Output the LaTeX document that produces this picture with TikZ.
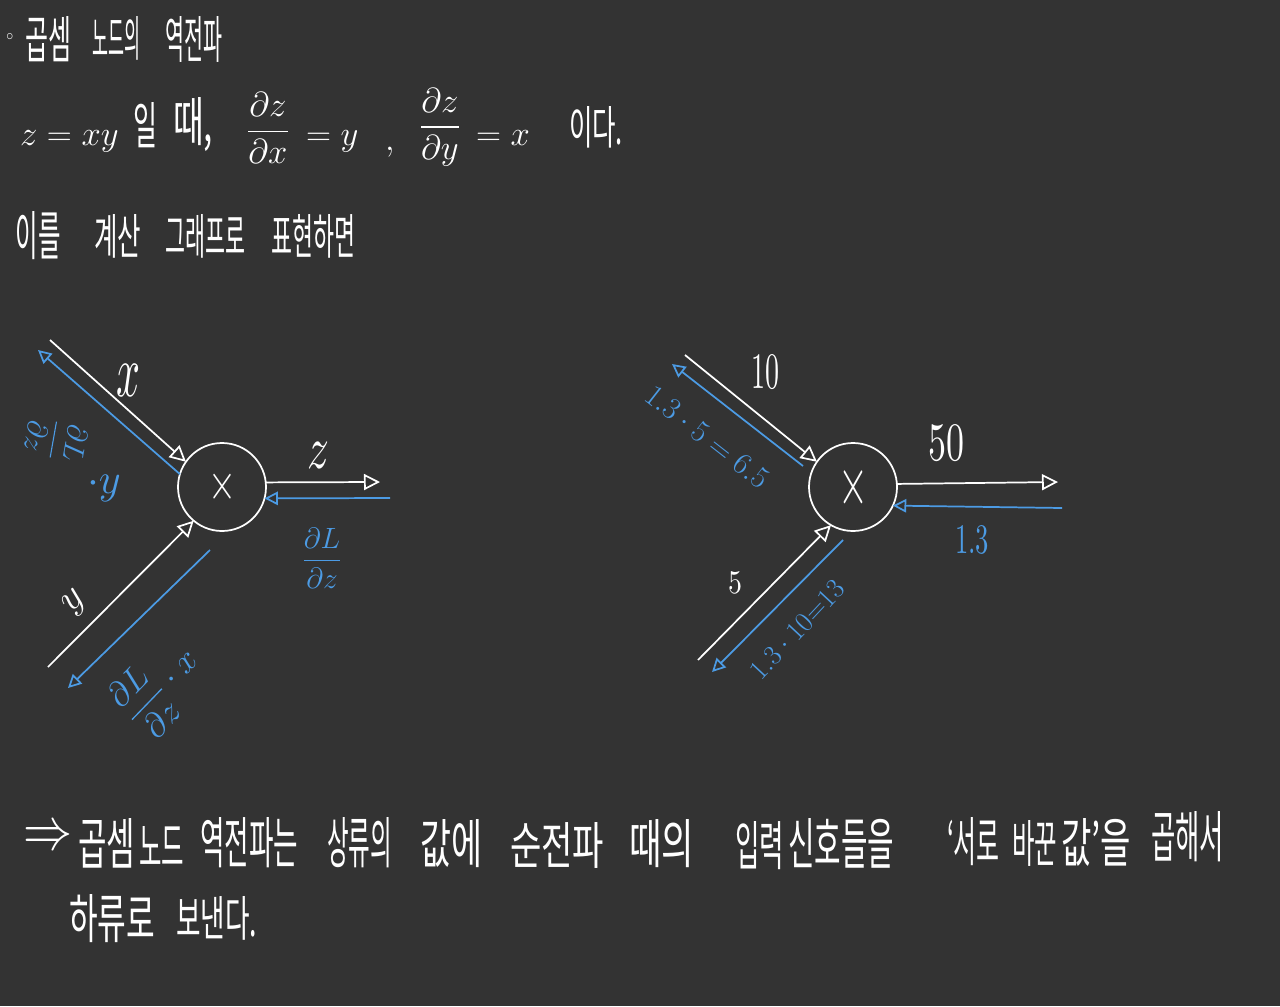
\RequirePackage{fix-cm}
\documentclass[tikz,border=0pt]{standalone}
\usepackage{fontspec}
\usepackage{amsmath}
\usepackage{graphicx}
\usetikzlibrary{arrows.meta}
\newfontfamily\kfont{Noto Sans CJK KR}
\newlength\pxu \setlength\pxu{0.75pt}
\newcommand\rs[3]{\resizebox{#1\pxu}{#2\pxu}{#3}}
\newcommand\msz{\fontsize{26}{30}\selectfont}
\newcommand\bsz{\fontsize{22}{26}\selectfont}
\definecolor{bg}{RGB}{51,51,51}
\definecolor{hb}{RGB}{76,155,228}
\begin{document}
\begin{tikzpicture}[x=0.75pt,y=-0.75pt,
  every node/.style={inner sep=0pt, outer sep=0pt, text=white},
  kw/.style={anchor=south west},
  bt/.style={text=hb},
  circ/.style={circle, draw=white, line width=1.3pt, minimum size=66pt},
  wl/.style={draw=white, line width=1.3pt, -{Triangle[open,length=12pt,width=12pt]}},
  bl/.style={draw=hb, line width=1.3pt, -{Triangle[open,length=10pt,width=10pt]}}]
\fill[bg] (0,0) rectangle (1280,1006);
\useasboundingbox (0,0) rectangle (1280,1006);

% title
\node (t0) at (10,37) {\rs{7}{7}{$\circ$}};
\node[kw] (t1) at (25,62) {\rs{46}{42}{\kfont 곱셈}};
\node[kw] (t2) at (92,60) {\rs{48}{40}{\kfont 노드의}};
\node[kw] (t3) at (165,62) {\rs{57}{42}{\kfont 역전파}};

% line 2
\node[anchor=base west] (m1) at (20,145) {\msz $z=xy$};
\node[kw] (k1) at (133,148) {\rs{24}{42}{\kfont 일}};
\node[kw] (k2) at (173,152) {\rs{40}{44}{\kfont 때,}};
\node (f1) at (268,128) {\msz $\dfrac{\partial z}{\partial x}$};
\node[anchor=base west] (m2) at (306,145) {\msz $=y$};
\node[anchor=base west] (m3) at (385,150) {\msz $,$};
\node (f2) at (440,127) {\msz $\dfrac{\partial z}{\partial y}$};
\node[anchor=base west] (m4) at (476,145) {\msz $=x$};
\node[kw] (k3) at (569,148) {\rs{54}{38}{\kfont 이다.}};

% line 3
\node[kw] (l1) at (16,260) {\rs{45}{44}{\kfont 이를}};
\node[kw] (l2) at (94,258) {\rs{47}{40}{\kfont 계산}};
\node[kw] (l3) at (165,258) {\rs{80}{40}{\kfont 그래프로}};
\node[kw] (l4) at (271,258) {\rs{84}{40}{\kfont 표현하면}};

% left diagram
\node[circ] (L) at (222,487) {\rs{28}{30}{$\times$}};
\coordinate (xs) at (50,340);
\coordinate (xb) at (38,350);
\coordinate (zo) at (380,482);
\coordinate (zb) at (390,498);
\coordinate (ys) at (48,667);
\coordinate (yb1) at (210,550);
\coordinate (yb2) at (68,688);
\draw[wl] (xs) -- (L.145);
\draw[bl] (L.163) -- (xb);
\draw[wl] (L.6) -- (zo);
\draw[bl] (zb) -- (L.-15);
\draw[wl] (ys) -- (L.-130);
\draw[bl] (yb1) -- (yb2);
\node (lx) at (128,380) {\rs{24}{32}{$x$}};
\node (lz) at (318,455) {\rs{22}{26}{$z$}};
\node[rotate=45] (ly) at (75,603) {\fontsize{30}{34}\selectfont $y$};
\node[bt] (g1) at (322,558) {\bsz $\dfrac{\partial L}{\partial z}$};
\node[bt, rotate=-100] (g2) at (56,440) {\bsz $\dfrac{\partial L}{\partial z}$};
\node[bt] (g3) at (104,488) {\fontsize{32}{36}\selectfont $\cdot y$};
\node[bt, rotate=46] (g4) at (160,686) {\fontsize{26}{30}\selectfont $\dfrac{\partial L}{\partial z}\cdot x$};

% right diagram
\node[circ] (R) at (853,487) {\rs{30}{40}{$\times$}};
\coordinate (ts) at (685,355);
\coordinate (tb1) at (803,466);
\coordinate (tb2) at (672,364);
\coordinate (ro) at (1058,482);
\coordinate (rb) at (1062,508);
\coordinate (fs) at (698,660);
\coordinate (fb1) at (843,540);
\coordinate (fb2) at (712,672);
\draw[wl] (ts) -- (R.145);
\draw[bl] (tb1) -- (tb2);
\draw[wl] (R.4) -- (ro);
\draw[bl] (rb) -- (R.-25);
\draw[wl] (fs) -- (R.-120);
\draw[bl] (fb1) -- (fb2);
\node (r10) at (765,372) {\rs{28}{34}{10}};
\node (r50) at (946,443) {\rs{36}{36}{50}};
\node[bt] (r13) at (972,540) {\rs{34}{28}{1.3}};
\node (r5) at (735,583) {\rs{14}{22}{5}};
\node[bt, rotate=-38] (rq1) at (707,437) {\fontsize{23}{27}\selectfont $1.3\cdot 5=6.5$};
\node[bt, rotate=47] (rq2) at (797,630) {\fontsize{21}{25}\selectfont $1.3\cdot 10{=}13$};

% conclusion
\node (b0) at (48,838) {\rs{49}{22}{$\Rightarrow$}};
\node[kw] (b1) at (78,868) {\rs{57}{46}{\kfont 곱셈}};
\node[kw] (b2) at (139,866) {\rs{45}{40}{\kfont 노드}};
\node[kw] (b3) at (200,868) {\rs{98}{46}{\kfont 역전파는}};
\node[kw] (b4) at (327,868) {\rs{65}{46}{\kfont 상류의}};
\node[kw] (b5) at (420,868) {\rs{62}{44}{\kfont 값에}};
\node[kw] (b6) at (510,868) {\rs{94}{42}{\kfont 순전파}};
\node[kw] (b7) at (629,868) {\rs{65}{44}{\kfont 때의}};
\node[kw] (b8) at (735,870) {\rs{49}{44}{\kfont 입력}};
\node[kw] (b9) at (788,868) {\rs{106}{46}{\kfont 신호들을}};
\node[kw] (b10) at (947,866) {\rs{53}{44}{\kfont ‘서로}};
\node[kw] (b11) at (1012,866) {\rs{45}{42}{\kfont 바꾼}};
\node[kw] (b12) at (1061,866) {\rs{70}{44}{\kfont 값’을}};
\node[kw] (b13) at (1151,862) {\rs{73}{46}{\kfont 곱해서}};
\node[kw] (c1) at (69,943) {\rs{86}{44}{\kfont 하류로}};
\node[kw] (c2) at (176,940) {\rs{81}{40}{\kfont 보낸다.}};
\end{tikzpicture}
\end{document}
